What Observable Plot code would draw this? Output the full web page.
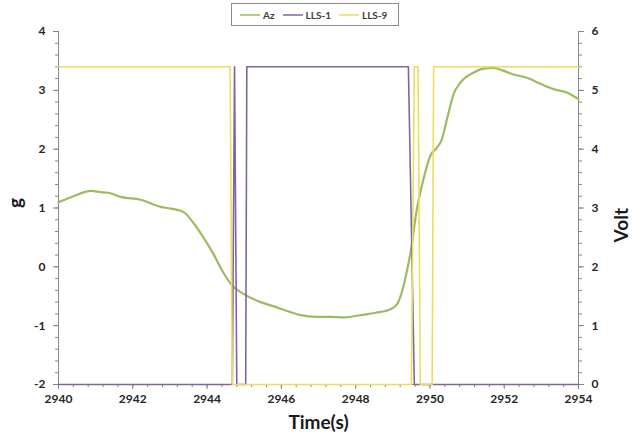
<!DOCTYPE html>
<html>
<head>
<meta charset="utf-8">
<script src="https://cdn.jsdelivr.net/npm/d3@7"></script>
<script src="https://cdn.jsdelivr.net/npm/@observablehq/plot@0.6"></script>
<style>
  body { margin: 0; background: #fff; }
  #wrap { position: relative; width: 637px; height: 442px; }
  #legend { position: absolute; left: 231px; top: 3px; width: 168px; height: 23px; border: 1px solid #8c8c8c;
    font-family: Lato, "Open Sans", sans-serif; font-weight: bold; font-size: 10px; color: #404040;
    display: flex; align-items: center; box-sizing: border-box; padding-left: 8px; background: #fff; }
  #legend .item { display: flex; align-items: center; margin-right: 8px; }
  #legend svg { margin-right: 3px; }
</style>
</head>
<body>
<div id="wrap"><div id="legend"></div></div>
<script>
// Az (g) time series
const azTime = [2940.0, 2940.32, 2940.89, 2941.13, 2941.4, 2941.67, 2942.21, 2942.75, 2943.02, 2943.37, 2943.63, 2943.9, 2944.17, 2944.44, 2944.68, 2944.98, 2945.44, 2945.84, 2946.25, 2946.52, 2946.92, 2947.32, 2947.73, 2948.13, 2948.54, 2948.94, 2949.13, 2949.29, 2949.37, 2949.48, 2949.64, 2949.83, 2950.02, 2950.18, 2950.31, 2950.47, 2950.64, 2950.82, 2951.17, 2951.44, 2951.71, 2951.95, 2952.25, 2952.63, 2952.98, 2953.33, 2953.7, 2954.0];
const azValue = [1.10, 1.18, 1.29, 1.27, 1.25, 1.19, 1.14, 1.02, 0.99, 0.93, 0.75, 0.50, 0.22, -0.10, -0.32, -0.46, -0.60, -0.68, -0.77, -0.82, -0.85, -0.85, -0.86, -0.82, -0.78, -0.72, -0.62, -0.32, -0.10, 0.25, 0.95, 1.50, 1.90, 2.02, 2.15, 2.54, 2.94, 3.13, 3.30, 3.37, 3.38, 3.34, 3.27, 3.21, 3.11, 3.02, 2.96, 2.85];
// LLS-1 (Volt)
const lls1Time = [2940.0, 2944.68, 2944.74, 2944.80, 2945.04, 2945.07, 2949.42, 2949.58, 2954.0];
const lls1Volt = [0, 0, 5.4, 0, 0, 5.4, 5.4, 0, 0];
// LLS-9 (Volt)
const lls9Time = [2940.0, 2944.62, 2944.68, 2949.50, 2949.58, 2949.68, 2949.74, 2950.06, 2950.10, 2954.0];
const lls9Volt = [5.4, 5.4, 0, 0, 5.4, 5.4, 0, 0, 5.4, 5.4];

const seriesNames = ["Az", "LLS-1", "LLS-9"];
const seriesColors = ["#9dbb61", "#8064a2", "#ecdc5e"];

const gTicks = [-2, -1, 0, 1, 2, 3, 4];
const gMinor = d3.range(-2, 4.001, 0.2).map(v => +v.toFixed(2));
const xTicks = [2940, 2942, 2944, 2946, 2948, 2950, 2952, 2954];
const xMinor = d3.range(2940, 2954.001, 0.4).map(v => +v.toFixed(2));

const az = azTime.map((t, i) => ({t, v: azValue[i]}));
// volt axis mapped onto g axis: g = volt - 2
const l1 = lls1Time.map((t, i) => ({t, v: lls1Volt[i] - 2}));
const l9 = lls9Time.map((t, i) => ({t, v: lls9Volt[i] - 2}));

const font = "Lato, 'Open Sans', sans-serif";
const axisColor = "#868686";
const labelColor = "#262626";

const chart = Plot.plot({
  width: 637, height: 442,
  marginTop: 31, marginBottom: 58, marginLeft: 58, marginRight: 59,
  style: {fontFamily: font, fontSize: "12px", fontWeight: "bold", color: labelColor, background: "#fff", overflow: "visible"},
  x: {domain: [2940, 2954]},
  y: {domain: [-2, 4]},
  marks: [
    // minor ticks
    Plot.axisY({anchor: "left", ticks: gMinor, tickSize: 3, tickFormat: () => "", label: null, stroke: axisColor}),
    Plot.axisY({anchor: "right", ticks: gMinor, tickSize: 3, tickFormat: () => "", label: null, stroke: axisColor}),
    Plot.axisX({anchor: "bottom", ticks: xMinor, tickSize: 3, tickFormat: () => "", label: null, stroke: axisColor}),
    // major ticks
    Plot.axisY({anchor: "left", ticks: gTicks, tickSize: 5, tickPadding: 8, tickFormat: d => String(d), label: null, stroke: axisColor, fill: labelColor}),
    Plot.axisY({anchor: "right", ticks: gTicks, tickSize: 5, tickPadding: 8, tickFormat: d => String(d + 2), label: null, stroke: axisColor, fill: labelColor}),
    Plot.axisX({anchor: "bottom", ticks: xTicks, tickSize: 5, tickPadding: 5, tickFormat: d => String(d), label: null, stroke: axisColor, fill: labelColor}),
    // axis lines
    Plot.ruleX([2940, 2954], {stroke: axisColor, strokeWidth: 1}),
    Plot.ruleY([-2], {stroke: axisColor, strokeWidth: 1}),
    // series
    Plot.line(az, {x: "t", y: "v", stroke: seriesColors[0], strokeWidth: 2.2, curve: "monotone-x"}),
    Plot.line(l1, {x: "t", y: "v", stroke: seriesColors[1], strokeWidth: 1.6}),
    Plot.line(l9, {x: "t", y: "v", stroke: seriesColors[2], strokeWidth: 1.6}),
    // axis titles
    Plot.text(["g"], {frameAnchor: "left", dx: -43, rotate: -90, text: d => d, fontSize: 19, fontWeight: "bold", fill: "#1a1a1a"}),
    Plot.text(["Volt"], {frameAnchor: "right", dx: 43, rotate: -90, text: d => d, fontSize: 19, fontWeight: "bold", fill: "#1a1a1a"}),
    Plot.text(["Time(s)"], {frameAnchor: "bottom", dy: 44, text: d => d, fontSize: 19, fontWeight: "bold", fill: "#1a1a1a"})
  ]
});
const wrap = document.getElementById("wrap");
wrap.insertBefore(chart, wrap.firstChild);

const legend = document.getElementById("legend");
seriesNames.forEach((name, i) => {
  const item = document.createElement("div");
  item.className = "item";
  item.innerHTML = `<svg width="20" height="6"><line x1="0" y1="3" x2="20" y2="3" stroke="${seriesColors[i]}" stroke-width="1.5"/></svg><span>${name}</span>`;
  legend.appendChild(item);
});
</script>
</body>
</html>
